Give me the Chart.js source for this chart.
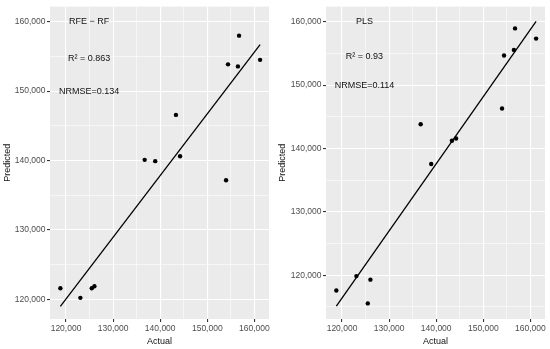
<!DOCTYPE html>
<html>
<head>
<meta charset="utf-8">
<script src="https://cdn.jsdelivr.net/npm/chart.js@4.4.1/dist/chart.umd.min.js"></script>
<style>
  html, body { margin: 0; padding: 0; background: #fff; }
  #wrap { position: relative; width: 550px; height: 349px; }
  canvas { position: absolute; top: 0; }
  #rfe-chart { left: 0; }
  #pls-chart { left: 275px; }
</style>
</head>
<body>
<div id="wrap">
  <canvas id="rfe-chart" width="275" height="349"></canvas>
  <canvas id="pls-chart" width="275" height="349"></canvas>
</div>
<script>
// actual vs predicted values
const actual = [118800, 123050, 125470, 126030, 136700, 138940, 143340, 144220, 153980, 154400, 156500, 156740, 161210];
const rfePredicted = [121570, 120190, 121570, 121860, 140090, 139900, 146570, 140610, 137140, 153860, 153570, 158000, 154510];
const plsPredicted = [117590, 119870, 115560, 119310, 143820, 137560, 141220, 141580, 146320, 154680, 155560, 158950, 157340];

// fitted lines (ends)
const fitX = [118800, 161210];
const rfeFitY = [118950, 156710];
const plsFitY = [115130, 160050];

// ticks
const majorTicks = [120000, 130000, 140000, 150000, 160000];
const majorLabels = ['120,000', '130,000', '140,000', '150,000', '160,000'];
const minorTicks = [115000, 125000, 135000, 145000, 155000];

const rfeNotes = ['RFE \u2212 RF', 'R\u00b2 = 0.863', 'NRMSE=0.134'];
const plsNotes = ['PLS', 'R\u00b2 = 0.93', 'NRMSE=0.114'];

const FONT = "'Liberation Sans', Arial, sans-serif";

const panelBg = {
    id: 'panelBg',
    beforeDraw(chart) {
        const { ctx, chartArea: a } = chart;
        ctx.save();
        ctx.fillStyle = '#ebebeb';
        ctx.fillRect(a.left, a.top, a.right - a.left, a.bottom - a.top);
        ctx.restore();
    }
};

const notes = {
    id: 'notes',
    afterDatasetsDraw(chart, args, opts) {
        const { ctx, scales } = chart;
        ctx.save();
        ctx.fillStyle = '#111';
        ctx.font = '9px ' + FONT;
        ctx.textAlign = 'center';
        ctx.textBaseline = 'middle';
        opts.texts.forEach((t, i) => {
            ctx.fillText(t, scales.x.getPixelForValue(opts.x), scales.y.getPixelForValue(opts.y[i]));
        });
        ctx.restore();
    }
};

function setTicks(scale) {
    const min = scale.min, max = scale.max;
    scale.ticks = majorTicks.concat(minorTicks)
        .filter(v => v >= min && v <= max)
        .sort((a, b) => a - b)
        .map(v => ({ value: v }));
}

function isMajor(ctx) {
    return ctx.tick && majorTicks.includes(ctx.tick.value);
}

function axis(min, max, title, size, isX) {
    return {
        type: 'linear',
        min: min,
        max: max,
        afterBuildTicks: setTicks,
        afterFit: s => { if (isX) s.height = size; else s.width = size; },
        border: { display: false },
        grid: {
            color: '#ffffff',
            lineWidth: c => isMajor(c) ? 1.1 : 0.55,
            tickColor: c => isMajor(c) ? '#333333' : 'rgba(0,0,0,0)',
            tickLength: 3
        },
        ticks: {
            autoSkip: false,
            maxRotation: 0,
            padding: isX ? 2 : 1.5,
            color: '#4d4d4d',
            font: { family: FONT, size: 8.5 },
            callback: v => {
                const i = majorTicks.indexOf(v);
                return i >= 0 ? majorLabels[i] : '';
            }
        },
        title: {
            display: true,
            text: title,
            color: '#111',
            font: { family: FONT, size: 9 },
            padding: isX ? { top: 0, bottom: 2.5 } : { top: 2, bottom: 0 }
        }
    };
}

function makeChart(id, predicted, fitY, yMin, yMax, yWidth, padRight, noteTexts, noteX, noteY) {
    const ctx = document.getElementById(id).getContext('2d');
    return new Chart(ctx, {
        type: 'scatter',
        data: {
            datasets: [{
                data: actual.map((a, i) => ({ x: a, y: predicted[i] })),
                backgroundColor: '#000',
                borderColor: '#000',
                pointRadius: 2.2,
                borderWidth: 0
            }, {
                type: 'line',
                data: fitX.map((a, i) => ({ x: a, y: fitY[i] })),
                borderColor: '#000',
                borderWidth: 1.3,
                pointRadius: 0,
                fill: false
            }]
        },
        options: {
            responsive: false,
            animation: false,
            devicePixelRatio: 1,
            layout: { padding: { left: 0, top: 4, right: padRight, bottom: 0 } },
            plugins: {
                legend: { display: false },
                tooltip: { enabled: false },
                notes: { texts: noteTexts, x: noteX, y: noteY }
            },
            scales: {
                x: axis(116600, 163100, 'Actual', 30, true),
                y: axis(yMin, yMax, 'Predicted', yWidth, false)
            }
        },
        plugins: [panelBg, notes]
    });
}

makeChart('rfe-chart', rfePredicted, rfeFitY, 117140, 162190, 50, 6,
    rfeNotes, 124900, [160000, 154750, 149900]);
makeChart('pls-chart', plsPredicted, plsFitY, 113100, 162390, 51, 5,
    plsNotes, 124770, [160000, 154570, 149870]);
</script>
</body>
</html>
